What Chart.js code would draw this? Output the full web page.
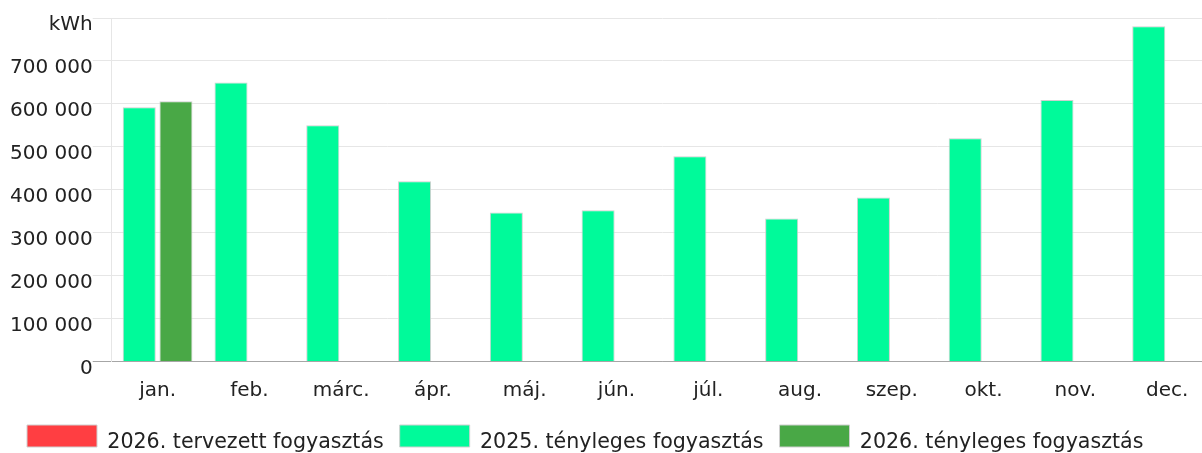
<!DOCTYPE html>
<html>
<head>
<meta charset="utf-8">
<script src="https://cdn.jsdelivr.net/npm/chart.js@4.4.1/dist/chart.umd.min.js"></script>
<style>
  html, body { margin: 0; padding: 0; overflow: hidden; background: #ffffff; }
  #wrap { width: 1213px; height: 457px; }
</style>
</head>
<body>
<div id="wrap"><canvas id="c" width="1213" height="457"></canvas></div>
<script>
const months = ['jan.', 'feb.', 'márc.', 'ápr.', 'máj.', 'jún.', 'júl.', 'aug.', 'szep.', 'okt.', 'nov.', 'dec.'];
const seriesLabels = ['2026. tervezett fogyasztás', '2025. tényleges fogyasztás', '2026. tényleges fogyasztás'];
const planned2026 = [null, null, null, null, null, null, null, null, null, null, null, null];
const actual2025 = [592000, 650000, 550000, 420000, 347000, 352000, 478000, 333000, 382000, 520000, 609000, 781000];
const actual2026 = [606000, null, null, null, null, null, null, null, null, null, null, null];
const yTickValues = [0, 100000, 200000, 300000, 400000, 500000, 600000, 700000, 800000];
const yTickLabels = ['0', '100 000', '200 000', '300 000', '400 000', '500 000', '600 000', '700 000', 'kWh'];

const FONT = 'DejaVu Sans';
const TEXT = '#222222';
const GRID = '#e6e6e6';
const AXIS = '#a6a6a6';
const EDGE = '#cfcfcf';

Chart.defaults.font.family = FONT;
Chart.defaults.font.size = 20;
Chart.defaults.color = TEXT;

const legendShift = {
  id: 'legendShift',
  afterLayout(chart) {
    const lg = chart.legend;
    if (lg) { lg.left += 7.6; lg.right += 7.6; }
  }
};

new Chart(document.getElementById('c'), {
  type: 'bar',
  data: {
    labels: months,
    datasets: [
      { label: seriesLabels[0], data: planned2026, backgroundColor: '#ff3e42', borderColor: EDGE, borderWidth: 1, grouped: false },
      { label: seriesLabels[1], data: actual2025, backgroundColor: '#00fa9a', borderColor: EDGE, borderWidth: 1 },
      { label: seriesLabels[2], data: actual2026, backgroundColor: '#49a846', borderColor: EDGE, borderWidth: 1 }
    ]
  },
  options: {
    responsive: false,
    animation: false,
    devicePixelRatio: 1,
    layout: { padding: { left: 10, top: 18, right: 0, bottom: 0 } },
    scales: {
      x: {
        grid: { display: false, drawTicks: false },
        border: { display: true, color: AXIS, width: 1 },
        ticks: { padding: 17, color: TEXT, font: { size: 20 } },
        afterFit(scale) { scale.height = 54.1; }
      },
      y: {
        min: 0,
        max: 800000,
        afterBuildTicks(scale) { scale.ticks = yTickValues.map(v => ({ value: v })); },
        ticks: {
          padding: 0,
          labelOffset: 7,
          color: TEXT,
          font: { size: 20 },
          callback(value) { const i = yTickValues.indexOf(value); return i >= 0 ? yTickLabels[i] : ''; }
        },
        grid: {
          color: ctx => (ctx.tick && ctx.tick.value === 0) ? AXIS : GRID,
          tickLength: 19,
          lineWidth: 1
        },
        border: { display: true, color: GRID, width: 1 }
      }
    },
    plugins: {
      legend: {
        position: 'bottom',
        align: 'start',
        labels: {
          boxWidth: 70,
          boxHeight: 22,
          padding: 9.4,
          color: TEXT,
          font: { size: 20.6, lineHeight: '7px' },
          generateLabels(chart) {
            const items = Chart.defaults.plugins.legend.labels.generateLabels(chart);
            return items.map(it => Object.assign(it, { text: ['', it.text] }));
          }
        }
      },
      tooltip: { enabled: false }
    }
  },
  plugins: [legendShift]
});
</script>
</body>
</html>
